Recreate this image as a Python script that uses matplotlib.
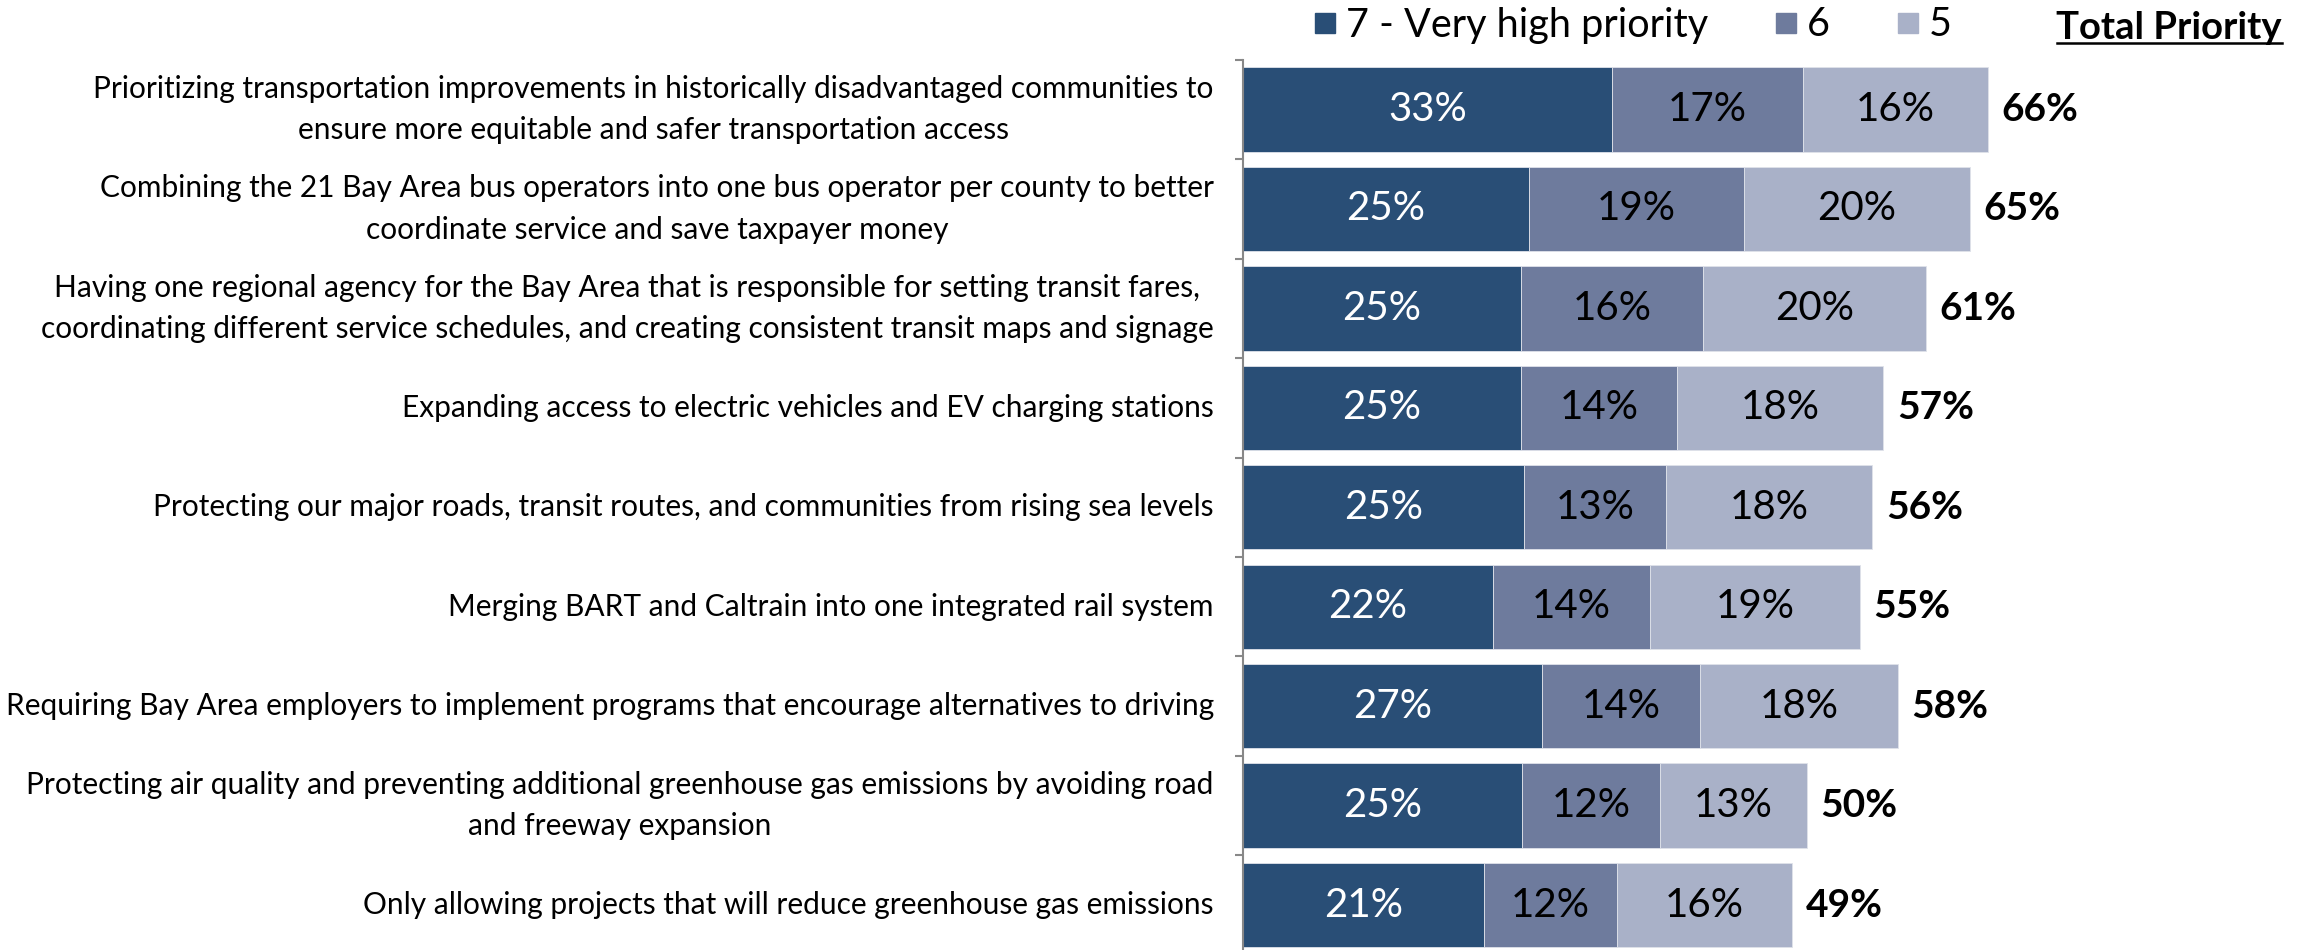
import matplotlib.pyplot as plt
import numpy as np
from matplotlib.lines import Line2D

plt.rcParams["font.family"] = ["Lato", "DejaVu Sans"]

# データ
items = [
    "Prioritizing transportation improvements in historically disadvantaged communities to\nensure more equitable and safer transportation access",
    "Combining the 21 Bay Area bus operators into one bus operator per county to better\ncoordinate service and save taxpayer money",
    "Having one regional agency for the Bay Area that is responsible for setting transit fares,\ncoordinating different service schedules, and creating consistent transit maps and signage",
    "Expanding access to electric vehicles and EV charging stations",
    "Protecting our major roads, transit routes, and communities from rising sea levels",
    "Merging BART and Caltrain into one integrated rail system",
    "Requiring Bay Area employers to implement programs that encourage alternatives to driving",
    "Protecting air quality and preventing additional greenhouse gas emissions by avoiding road\nand freeway expansion",
    "Only allowing projects that will reduce greenhouse gas emissions",
]

prio7 = [32.8, 25.4, 24.7, 24.7, 25.0, 22.2, 26.6, 24.8, 21.4]
prio6 = [17.0, 19.1, 16.2, 13.9, 12.6, 14.0, 14.0, 12.3, 11.8]
prio5 = [16.4, 20.1, 19.8, 18.3, 18.3, 18.6, 17.6, 13.0, 15.6]
totals = [66, 65, 61, 57, 56, 55, 58, 50, 49]

series_names = ["7 - Very high priority", "6", "5"]
colors = ["#294E76", "#6E7B9D", "#A9B1C8"]
text_colors = ["white", "black", "black"]

fig = plt.figure(figsize=(23.04, 9.5), dpi=100)
ax = fig.add_axes([1243 / 2304, -0.005, 1 - 1243 / 2304, 0.942])

y = np.arange(len(items))
left = np.zeros(len(items))
for vals, c, tc, name in zip([prio7, prio6, prio5], colors, text_colors, series_names):
    vals = np.array(vals)
    bars = ax.barh(y, vals, left=left, height=0.847, color=c,
                   edgecolor="#dfe2ea", linewidth=0.6, label=name)
    for b, v in zip(bars, vals):
        ax.text(b.get_x() + b.get_width() / 2, b.get_y() + b.get_height() / 2,
                f"{v:.0f}%", ha="center", va="center", color=tc, fontsize=29)
    left += vals

# 合計
for i, t in enumerate(totals):
    ax.annotate(f"{t}%", xy=(left[i], i), xytext=(10, 0), textcoords="offset points",
                ha="left", va="center", fontsize=28, fontweight="bold")

# 項目ラベル
for i, lab in enumerate(items):
    ax.annotate(lab, xy=(0, i), xycoords=("axes fraction", "data"), xytext=(-21, 0),
                textcoords="offset points", ha="right", va="center",
                multialignment="center", fontsize=21.5, linespacing=1.6)

ax.set_xlim(0, (2304 - 1243) / 11.25)
ax.set_ylim(len(items) - 0.5, -0.5)
ax.set_yticks([])
ax.set_yticks(np.arange(-0.5, len(items)), minor=True)
ax.tick_params(axis="y", which="minor", length=6, width=1.5, color="#888888", direction="out")
ax.set_xticks([])
for s in ["top", "right", "bottom"]:
    ax.spines[s].set_visible(False)
ax.spines["left"].set_color("#888888")
ax.spines["left"].set_linewidth(1.5)

handles = [Line2D([], [], marker="s", linestyle="none", markersize=14, color=c) for c in colors]
fig.legend(handles, series_names, loc="center right", bbox_to_anchor=(1952 / 2304, 1 - 25 / 950),
           ncol=3, frameon=False, fontsize=28.5, handlelength=0.55, handletextpad=0.25,
           columnspacing=1.7, borderpad=0, borderaxespad=0)

tp = fig.text(2282 / 2304, 1 - 28 / 950, "Total Priority", ha="right", va="center",
              fontsize=27.5, fontweight="bold")
fig.canvas.draw()
bb = tp.get_window_extent()
fig.add_artist(Line2D([bb.x0 / 2304, bb.x1 / 2304], [1 - 43 / 950, 1 - 43 / 950],
                      transform=fig.transFigure, color="black", linewidth=1.8))

fig.savefig("out.png", dpi=100)
